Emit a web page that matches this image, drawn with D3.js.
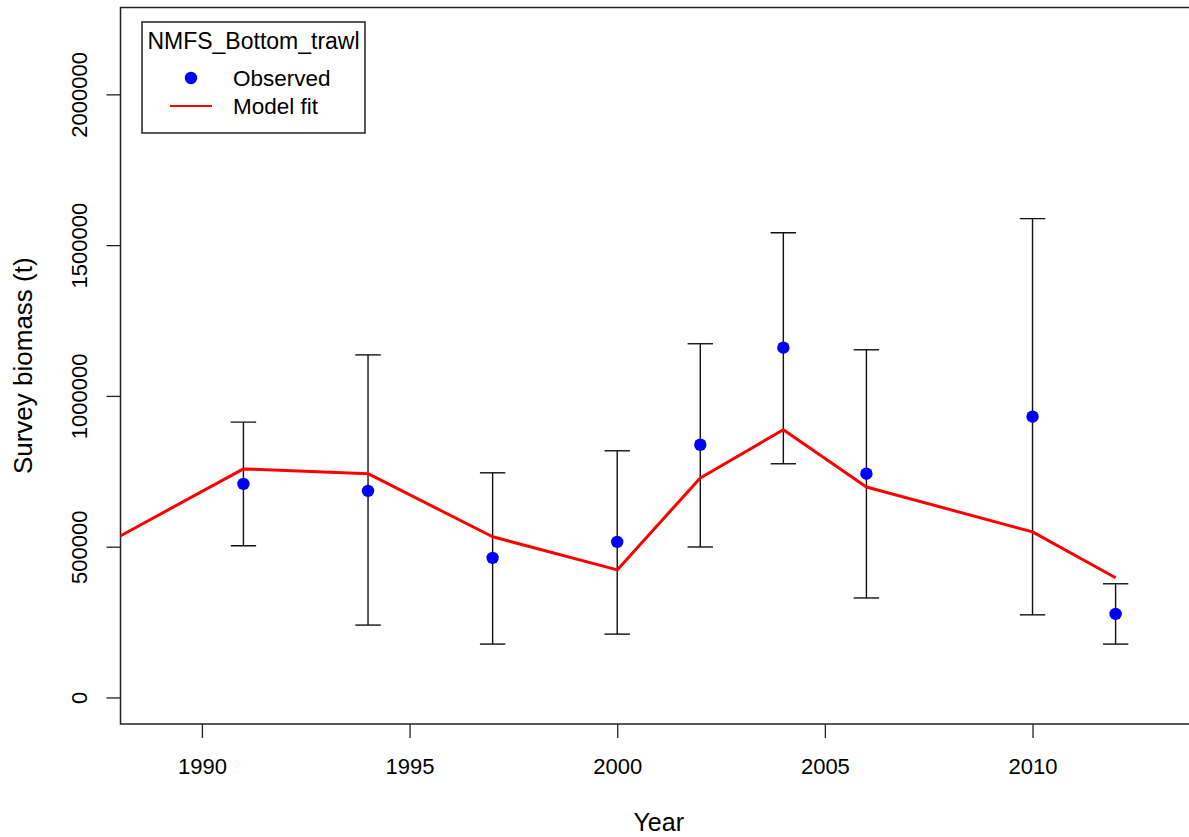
<!DOCTYPE html>
<html lang="en">
	<head>
		<meta charset="utf-8">
		<title>Survey biomass fit</title>
		<script type="text/javascript" src="https://cdn.jsdelivr.net/npm/d3@7"></script>
		<style type="text/css">
			body { margin: 0; background: #fff; }
			text { font-family: "Liberation Sans", Arial, sans-serif; fill: #000; }
		</style>
	</head>
	<body>
		<script type="text/javascript">

			// Survey years and observed biomass with interval bounds
			var years    = [1991, 1994, 1997, 2000, 2002, 2004, 2006, 2010, 2012];
			var observed = [708000, 685000, 463000, 516000, 838000, 1160000, 742000, 931000, 277000];
			var lower    = [503000, 240000, 177000, 210000, 499000, 775000, 330000, 274000, 177000];
			var upper    = [913000, 1136000, 745000, 818000, 1173000, 1541000, 1153000, 1588000, 377000];

			// Model fit
			var fitYears  = [1988, 1991, 1994, 1997, 2000, 2002, 2004, 2006, 2010, 2012];
			var fitValues = [533000, 758000, 742000, 533000, 423000, 728000, 888000, 698000, 549000, 397000];

			var xTicks = [1990, 1995, 2000, 2005, 2010];
			var yTicks = [0, 500000, 1000000, 1500000, 2000000];

			var W = 1189, H = 837;
			// plot box edges (note: "top" is taken by window.top)
			var pL = 120.5, pR = 1197, pT = 7.5, pB = 724;

			var xScale = d3.scaleLinear()
				.domain([1988.04, 2013.96])
				.range([pL, pR]);

			var yScale = d3.scaleLinear()
				.domain([-88000, 2288000])
				.range([pB, pT]);

			var svg = d3.select("body")
						.append("svg")
						.attr("width", W)
						.attr("height", H);

			svg.append("clipPath")
				.attr("id", "plotclip")
				.append("rect")
				.attr("x", pL).attr("y", pT)
				.attr("width", pR - pL).attr("height", pB - pT);

			// x axis
			var xAxis = svg.append("g")
				.attr("transform", "translate(0," + pB + ")")
				.call(d3.axisBottom(xScale).tickValues(xTicks).tickFormat(d3.format("d")).tickSize(14).tickSizeOuter(0));
			xAxis.select(".domain").remove();
			xAxis.selectAll("line").attr("stroke", "#222").attr("stroke-width", 1.3);
			xAxis.selectAll("text")
				.attr("y", 50).attr("dy", 0)
				.attr("font-size", "22px")
				.attr("font-family", null);

			// y axis, labels turned like R's las=0
			var yAxis = svg.append("g")
				.attr("transform", "translate(" + pL + ",0)")
				.call(d3.axisLeft(yScale).tickValues(yTicks).tickFormat(d3.format("d")).tickSize(14).tickSizeOuter(0));
			yAxis.select(".domain").remove();
			yAxis.selectAll("line").attr("stroke", "#222").attr("stroke-width", 1.3);
			yAxis.selectAll("text")
				.attr("transform", "rotate(-90)")
				.attr("x", 0).attr("y", -33.5).attr("dy", 0)
				.attr("text-anchor", "middle")
				.attr("font-size", "22px")
				.attr("font-family", null);

			// plot box
			svg.append("rect")
				.attr("x", pL).attr("y", pT)
				.attr("width", pR - pL).attr("height", pB - pT)
				.attr("fill", "none")
				.attr("stroke", "#222")
				.attr("stroke-width", 1.5);

			// axis titles
			svg.append("text")
				.attr("x", (pL + pR) / 2).attr("y", 831)
				.attr("text-anchor", "middle")
				.attr("font-size", "25px")
				.text("Year");

			svg.append("text")
				.attr("transform", "translate(32," + ((pT + pB) / 2) + ") rotate(-90)")
				.attr("text-anchor", "middle")
				.attr("font-size", "26px")
				.text("Survey biomass (t)");

			var plot = svg.append("g").attr("clip-path", "url(#plotclip)");

			// error bars
			var bars = plot.selectAll("g.bar")
				.data(years)
				.enter()
				.append("g")
				.attr("class", "bar")
				.attr("stroke", "#111")
				.attr("stroke-width", 1.4);

			bars.append("line")
				.attr("x1", function(d) { return xScale(d); })
				.attr("x2", function(d) { return xScale(d); })
				.attr("y1", function(d, i) { return yScale(lower[i]); })
				.attr("y2", function(d, i) { return yScale(upper[i]); });

			bars.append("line")
				.attr("x1", function(d) { return xScale(d) - 12.7; })
				.attr("x2", function(d) { return xScale(d) + 12.7; })
				.attr("y1", function(d, i) { return yScale(upper[i]); })
				.attr("y2", function(d, i) { return yScale(upper[i]); });

			bars.append("line")
				.attr("x1", function(d) { return xScale(d) - 12.7; })
				.attr("x2", function(d) { return xScale(d) + 12.7; })
				.attr("y1", function(d, i) { return yScale(lower[i]); })
				.attr("y2", function(d, i) { return yScale(lower[i]); });

			// model fit line
			var line = d3.line()
				.x(function(d, i) { return xScale(fitYears[i]); })
				.y(function(d) { return yScale(d); });

			plot.append("path")
				.datum(fitValues)
				.attr("d", line)
				.attr("fill", "none")
				.attr("stroke", "#ff0000")
				.attr("stroke-width", 3)
				.attr("stroke-linejoin", "round");

			// observed points
			plot.selectAll("circle")
				.data(years)
				.enter()
				.append("circle")
				.attr("cx", function(d) { return xScale(d); })
				.attr("cy", function(d, i) { return yScale(observed[i]); })
				.attr("r", 6.2)
				.attr("fill", "#0000ff");

			// legend
			var lg = svg.append("g");
			lg.append("rect")
				.attr("x", 142).attr("y", 22)
				.attr("width", 223).attr("height", 111)
				.attr("fill", "#fff")
				.attr("stroke", "#222")
				.attr("stroke-width", 1.5);
			lg.append("text")
				.attr("x", 253.5).attr("y", 49)
				.attr("text-anchor", "middle")
				.attr("font-size", "23px")
				.text("NMFS_Bottom_trawl");
			lg.append("circle")
				.attr("cx", 191).attr("cy", 78).attr("r", 6.2)
				.attr("fill", "#0000ff");
			lg.append("text")
				.attr("x", 233).attr("y", 86)
				.attr("font-size", "22.5px")
				.text("Observed");
			lg.append("line")
				.attr("x1", 170).attr("x2", 212)
				.attr("y1", 106).attr("y2", 106)
				.attr("stroke", "#ff0000")
				.attr("stroke-width", 1.8);
			lg.append("text")
				.attr("x", 233).attr("y", 114)
				.attr("font-size", "22.5px")
				.text("Model fit");

		</script>
	</body>
</html>
